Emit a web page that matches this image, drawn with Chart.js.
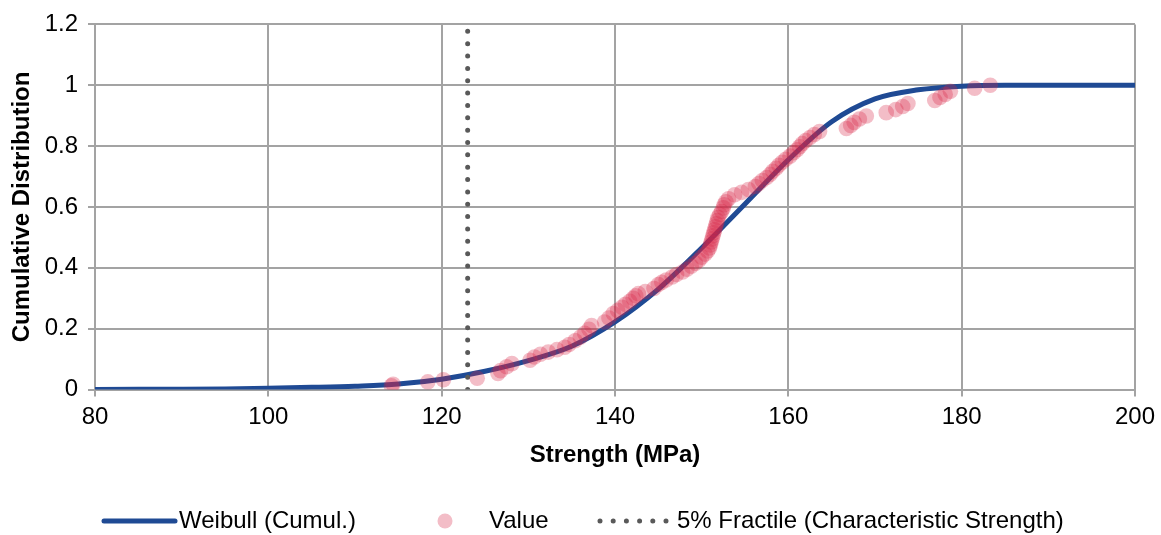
<!DOCTYPE html>
<html><head><meta charset="utf-8">
<script src="https://cdn.jsdelivr.net/npm/chart.js@4/dist/chart.umd.min.js"></script>
<style>html,body{margin:0;padding:0;background:#fff}#wrap{width:1161px;height:535px;position:relative}</style>
</head><body><div id="wrap"><canvas id="c" width="1161" height="535"></canvas></div>
<script>
// ---- data ----
const xTickValues = [80, 100, 120, 140, 160, 180, 200];
const yTickValues = [0, 0.2, 0.4, 0.6, 0.8, 1, 1.2];

const weibullStrength = [80, 85, 90, 95, 100, 105, 110, 115, 120, 125, 130, 135, 140, 145, 150, 155, 160, 165, 170, 175, 180, 185, 190, 195, 200];
const weibullCumul    = [0, 0.0005, 0.001, 0.002, 0.004, 0.007, 0.011, 0.018, 0.034, 0.06, 0.095, 0.142, 0.222, 0.33, 0.465, 0.61, 0.755, 0.88, 0.955, 0.985, 0.997, 1, 1, 1, 1];

const valueStrength = [114.2, 114.4, 118.4, 120.2, 124.1, 126.5, 126.8, 127.5, 128.1, 130.2,
  130.7, 131.4, 132.3, 133.3, 134.2, 134.7, 135.4, 136.0, 136.5, 137.0,
  137.3, 138.8, 139.3, 139.8, 140.3, 140.8, 141.2, 141.7, 142.1, 142.4,
  142.7, 143.5, 144.5, 145.0, 145.4, 145.9, 146.6, 147.1, 147.8, 148.3,
  148.8, 149.3, 149.7, 150.0, 150.4, 150.7, 150.9, 151.0, 151.1, 151.2,
  151.3, 151.4, 151.5, 151.6, 151.7, 151.8, 151.9, 152.1, 152.3, 152.5,
  152.6, 152.8, 153.1, 153.8, 154.6, 155.4, 156.2, 156.6, 157.0, 157.5,
  157.9, 158.2, 158.6, 158.9, 159.3, 159.7, 160.2, 160.6, 161.0, 161.3,
  161.6, 162.0, 162.5, 163.0, 163.6, 166.7, 167.2, 167.6, 168.2, 169.0,
  171.3, 172.4, 173.2, 173.8, 176.9, 177.5, 178.1, 178.7, 181.5, 183.3];
const valueCumul = [0.012, 0.017, 0.025, 0.032, 0.037, 0.053, 0.062, 0.075, 0.085, 0.096,
  0.107, 0.116, 0.123, 0.131, 0.139, 0.148, 0.16, 0.172, 0.185, 0.198,
  0.21, 0.222, 0.235, 0.25, 0.26, 0.27, 0.28, 0.29, 0.30, 0.308,
  0.315, 0.322, 0.332, 0.345, 0.352, 0.36, 0.37, 0.378, 0.386, 0.395,
  0.405, 0.415, 0.425, 0.435, 0.445, 0.455, 0.465, 0.475, 0.485, 0.495,
  0.505, 0.515, 0.525, 0.535, 0.545, 0.555, 0.565, 0.575, 0.585, 0.597,
  0.607, 0.617, 0.627, 0.64, 0.648, 0.657, 0.667, 0.677, 0.687, 0.697,
  0.707, 0.717, 0.727, 0.737, 0.747, 0.757, 0.767, 0.778, 0.788, 0.798,
  0.808, 0.818, 0.828, 0.838, 0.848, 0.858, 0.868, 0.878, 0.889, 0.899,
  0.91, 0.92, 0.93, 0.94, 0.95, 0.96, 0.97, 0.98, 0.99, 1.0];

const fractileStrength = [123, 123];
const fractileCumul = [0, 1.2];

const seriesNames = ['Weibull (Cumul.)', 'Value', '5% Fractile (Characteristic Strength)'];

// ---- styles ----
const FONT = '"Liberation Sans", Arial, sans-serif';
const BLUE = '#1f4a94';
const PINK = 'rgba(214,36,70,0.3)';
const DOT = '#595959';
const GRID = '#a3a3a3';

Chart.defaults.font.family = FONT;
Chart.defaults.color = '#000';

const zip = (xs, ys) => xs.map((x, i) => ({x, y: ys[i]}));

const legendPlugin = {
  id: 'customLegend',
  afterDraw(chart) {
    const ctx = chart.ctx;
    const y = 521;
    ctx.save();
    ctx.font = '24px ' + FONT;
    ctx.textBaseline = 'middle';
    ctx.textAlign = 'left';
    ctx.fillStyle = '#000';
    // item 1: solid line
    ctx.strokeStyle = BLUE; ctx.lineWidth = 5; ctx.lineCap = 'round';
    ctx.beginPath(); ctx.moveTo(104, y); ctx.lineTo(175, y); ctx.stroke();
    ctx.fillText(seriesNames[0], 179, y);
    // item 2: marker
    ctx.fillStyle = PINK;
    ctx.beginPath(); ctx.arc(445, y, 7.5, 0, Math.PI * 2); ctx.fill();
    ctx.fillStyle = '#000';
    ctx.fillText(seriesNames[1], 489, y);
    // item 3: dotted
    ctx.strokeStyle = DOT; ctx.lineWidth = 5; ctx.lineCap = 'round';
    ctx.setLineDash([0, 13.2]);
    ctx.beginPath(); ctx.moveTo(600, y); ctx.lineTo(667, y); ctx.stroke();
    ctx.setLineDash([]);
    ctx.fillText(seriesNames[2], 677, y);
    ctx.restore();
  }
};

new Chart(document.getElementById('c'), {
  type: 'scatter',
  data: {
    datasets: [
      {
        label: seriesNames[1],
        data: zip(valueStrength, valueCumul),
        backgroundColor: PINK,
        borderColor: 'rgba(0,0,0,0)',
        borderWidth: 0,
        pointRadius: 7.8,
        pointHoverRadius: 7.8,
        showLine: false,
        order: 0
      },
      {
        label: seriesNames[2],
        data: zip(fractileStrength, fractileCumul),
        showLine: true,
        borderColor: DOT,
        borderWidth: 5,
        borderDash: [0, 12.35],
        borderCapStyle: 'round',
        pointRadius: 0,
        fill: false,
        order: 1
      },
      {
        label: seriesNames[0],
        data: zip(weibullStrength, weibullCumul),
        showLine: true,
        borderColor: BLUE,
        borderWidth: 5,
        pointRadius: 0,
        cubicInterpolationMode: 'monotone',
        fill: false,
        order: 2
      }
    ]
  },
  options: {
    responsive: false,
    animation: false,
    events: [],
    layout: { padding: { left: 0, top: 21, right: 26, bottom: 60 } },
    plugins: { legend: { display: false }, tooltip: { enabled: false } },
    scales: {
      x: {
        type: 'linear', min: 80, max: 200,
        afterBuildTicks: s => { s.ticks = xTickValues.map(v => ({value: v})); },
        afterFit: s => { s.height = 85.5; },
        ticks: { color: '#000', font: { size: 24 }, padding: 6, maxRotation: 0, autoSkip: false },
        grid: { color: GRID, lineWidth: 2, tickLength: 7 },
        border: { color: GRID, width: 2 },
        title: { display: true, text: 'Strength (MPa)', color: '#000', font: { size: 24, weight: 'bold' }, padding: { top: 0, bottom: 5.6 } }
      },
      y: {
        type: 'linear', min: 0, max: 1.2,
        afterBuildTicks: s => { s.ticks = yTickValues.map(v => ({value: v})); },
        afterFit: s => { s.width = 95; },
        ticks: { color: '#000', font: { size: 24 }, padding: 10, callback: v => String(+v.toFixed(1)) },
        grid: { color: GRID, lineWidth: 2, tickLength: 7 },
        border: { color: GRID, width: 2 },
        title: { display: true, text: 'Cumulative Distribution', color: '#000', font: { size: 24, weight: 'bold' }, padding: { top: 8, bottom: 0 } }
      }
    }
  },
  plugins: [legendPlugin]
});
</script>
</body></html>
